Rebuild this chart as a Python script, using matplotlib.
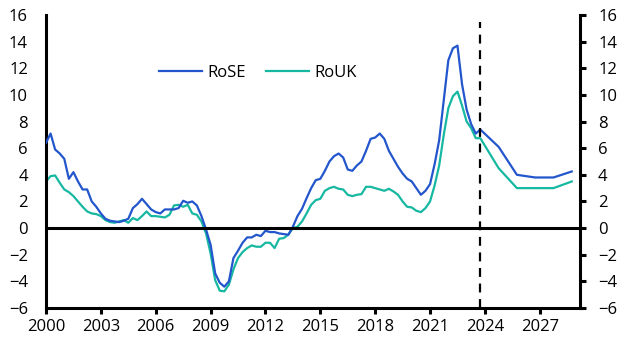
import numpy as np
import matplotlib.pyplot as plt

plt.rcParams['font.family'] = ['Open Sans', 'DejaVu Sans']

# Quarterly history, 2000Q1 - 2023Q4 (% y/y)
hist_years = 2000 + 0.25 * np.arange(96)
rose_hist = [6.4, 7.1, 5.9, 5.6, 5.2, 3.7, 4.2, 3.5, 2.9, 2.9, 2.0, 1.6,
             1.1, 0.7, 0.55, 0.5, 0.45, 0.55, 0.7, 1.5, 1.8, 2.2, 1.8, 1.4,
             1.2, 1.1, 1.4, 1.4, 1.4, 1.5, 2.05, 1.9, 2.0, 1.7, 0.9, -0.1,
             -1.25, -3.4, -4.1, -4.4, -4.0, -2.25, -1.7, -1.1, -0.7, -0.7, -0.5, -0.6,
             -0.2, -0.3, -0.3, -0.4, -0.45, -0.5, 0.1, 0.9, 1.45, 2.25, 3.0, 3.6,
             3.7, 4.3, 5.0, 5.4, 5.6, 5.3, 4.4, 4.3, 4.7, 5.0, 5.8, 6.7,
             6.8, 7.1, 6.7, 5.8, 5.2, 4.6, 4.1, 3.7, 3.5, 3.0, 2.5, 2.8,
             3.3, 4.8, 6.6, 9.6, 12.6, 13.5, 13.7, 10.8, 8.9, 7.8, 7.1, 7.4]
rouk_hist = [3.5, 3.9, 3.95, 3.4, 2.9, 2.7, 2.4, 2.0, 1.6, 1.25, 1.1, 1.05,
             0.9, 0.6, 0.45, 0.4, 0.5, 0.6, 0.4, 0.75, 0.6, 0.9, 1.25, 0.9,
             0.9, 0.85, 0.8, 1.0, 1.7, 1.75, 1.6, 1.75, 1.1, 1.0, 0.5, -0.4,
             -1.9, -3.9, -4.7, -4.75, -4.25, -3.1, -2.25, -1.8, -1.5, -1.3, -1.4, -1.4,
             -1.1, -1.1, -1.5, -0.8, -0.75, -0.5, 0.0, 0.1, 0.5, 1.1, 1.75, 2.1,
             2.2, 2.8, 3.0, 3.1, 2.95, 2.9, 2.5, 2.4, 2.5, 2.55, 3.1, 3.1,
             3.0, 2.9, 2.8, 2.95, 2.75, 2.5, 2.0, 1.6, 1.55, 1.3, 1.2, 1.5,
             2.0, 3.2, 4.7, 7.0, 9.0, 9.9, 10.25, 9.2, 8.0, 7.5, 6.75, 6.75]

# Annual forecasts (Q4 of each year)
fc_years = [2024.75, 2025.75, 2026.75, 2027.75, 2028.75]
rose_fc = [6.1, 4.0, 3.8, 3.8, 4.25]
rouk_fc = [4.5, 3.0, 3.0, 3.0, 3.5]

x_ticks = [2000, 2003, 2006, 2009, 2012, 2015, 2018, 2021, 2024, 2027]
y_ticks = list(range(-6, 17, 2))

blue = '#2356CC'
teal = '#17B8A2'

rose_x = list(hist_years) + fc_years
rose_y = rose_hist + rose_fc
rouk_x = list(hist_years) + fc_years
rouk_y = rouk_hist + rouk_fc

fig = plt.figure(figsize=(6.34, 3.47), dpi=100)
ax = fig.add_axes([46 / 634, 1 - 308 / 347, 534 / 634, 293 / 347])

ax.plot(rose_x, rose_y, color=blue, lw=1.6, label='RoSE', zorder=3)
ax.plot(rouk_x, rouk_y, color=teal, lw=1.6, label='RoUK', zorder=2)
ax.axhline(0, color='black', lw=2.2, zorder=4)
ax.axvline(2023.75, ymax=0.977, color='black', lw=1.6, ls=(0, (4, 3)), zorder=4)

ax.set_xlim(2000, 2029.2)
ax.set_ylim(-6, 16)
ax.set_xticks(x_ticks)
ax.set_xticklabels([str(t) for t in x_ticks])
ax.set_yticks(y_ticks)

for s in ['left', 'right', 'bottom']:
    ax.spines[s].set_linewidth(2.2)
ax.spines['top'].set_visible(False)

ax.tick_params(axis='y', which='major', direction='out', length=4.5, width=2.2,
               labelsize=12, left=True, right=True, labelleft=True, labelright=True, pad=8.5)
ax.tick_params(axis='x', which='major', direction='out', length=4, width=2.2,
               labelsize=12, pad=4)
# tick marks only on the right-hand axis
for t in ax.yaxis.get_major_ticks():
    t.tick1line.set_visible(False)

ax.legend(loc='center', bbox_to_anchor=(0.397, 0.802), ncol=2, frameon=False,
          fontsize=12, handlelength=2.6, columnspacing=1.2, handletextpad=0.3)

fig.savefig('out.png', dpi=100)
